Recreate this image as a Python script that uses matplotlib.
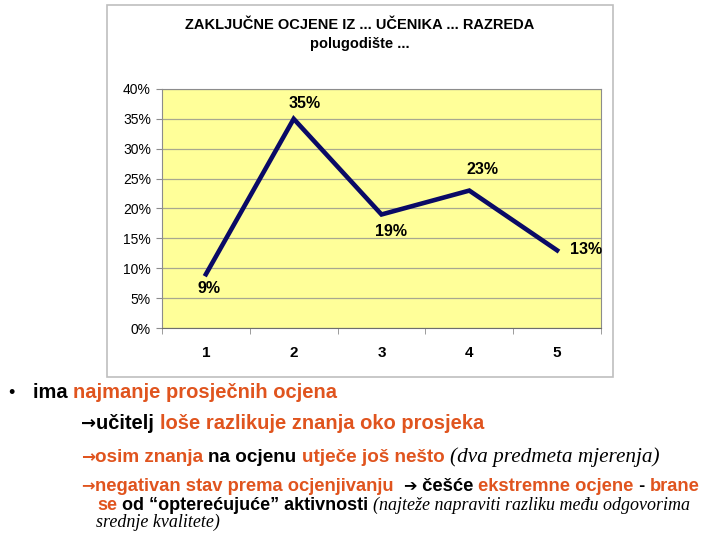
import matplotlib
matplotlib.use("Agg")
import matplotlib.pyplot as plt
from matplotlib.patches import Rectangle
from matplotlib.ticker import PercentFormatter

# podaci
kategorije = [1, 2, 3, 4, 5]
postoci = [9, 35, 19, 23, 13]
oznake = ["9%", "35%", "19%", "23%", "13%"]
y_ticks = [0, 5, 10, 15, 20, 25, 30, 35, 40]

NARANCASTA = "#E0541E"
CRNA = "#000000"

W, H = 720, 540
fig = plt.figure(figsize=(7.2, 5.4), dpi=100)
fig.patch.set_facecolor("white")

def fx(px):
    return px / W

def fy(py):
    return 1 - py / H

# okvir grafikona
fig.patches.append(Rectangle((fx(107), fy(377)), fx(613) - fx(107), fy(5) - fy(377),
                             transform=fig.transFigure, facecolor="white",
                             edgecolor="#BFBFBF", linewidth=1.2, zorder=-5))

fig.text(fx(360), fy(25), "ZAKLJUČNE OCJENE IZ ... UČENIKA ... RAZREDA",
         ha="center", va="center", fontsize=10.5, fontweight="bold",
         family="Liberation Sans")
fig.text(fx(360), fy(44), "polugodište ...", ha="center", va="center",
         fontsize=10.5, fontweight="bold", family="Liberation Sans")

ax = fig.add_axes([fx(162), fy(328), fx(601) - fx(162), fy(89) - fy(328)])
ax.set_zorder(2)
ax.set_facecolor("#FFFF99")
ax.plot(kategorije, postoci, color="#0A0A66", linewidth=3.3, solid_joinstyle="miter", zorder=3)
ax.set_xlim(0.5, 5.5)
ax.set_ylim(0, 40)
ax.set_yticks(y_ticks)
ax.yaxis.set_major_formatter(PercentFormatter(decimals=0))
ax.set_xticks(kategorije)
ax.set_xticks([0.5, 1.5, 2.5, 3.5, 4.5, 5.5], minor=True)
ax.grid(axis="y", color="#A8A890", linewidth=0.9, zorder=1)
ax.set_axisbelow(True)
for s in ["top", "right", "left"]:
    ax.spines[s].set_color("#8C8C8C")
ax.spines["bottom"].set_color("#6E6E6E")
ax.tick_params(axis="y", labelsize=10, length=4, color="#8C8C8C", pad=4)
ax.tick_params(axis="x", which="major", length=0, pad=13, labelsize=11)
ax.tick_params(axis="x", which="minor", length=4, color="#8C8C8C")
for lab in ax.get_xticklabels():
    lab.set_fontweight("bold")
    lab.set_family("Liberation Sans")
for lab in ax.get_yticklabels():
    lab.set_family("Liberation Sans")

# oznake podataka (pomak u pikselima)
pomaci = [(3, -14), (11, 15), (10, -17), (13, 21), (29, 1)]
for x, y, t, (dx, dy) in zip(kategorije, postoci, oznake, pomaci):
    ax.annotate(t, (x, y), xytext=(dx * 0.72, dy * 0.72), textcoords="offset points",
                ha="center", va="center", fontsize=11.5, fontweight="bold",
                family="Liberation Sans", zorder=4)

# tekst ispod grafikona
fig.canvas.draw()
renderer = fig.canvas.get_renderer()

def redak(x0, y0, dijelovi, vel_b=14.5, vel_i=15.5):
    x = x0
    for tekst, boja, stil in dijelovi:
        if stil == "i":
            kw = dict(family="Liberation Serif", style="italic", fontsize=vel_i)
        elif stil == "s":
            kw = dict(family="DejaVu Sans", fontweight="bold", fontsize=vel_b - 1.5)
        else:
            kw = dict(family="Liberation Sans", fontweight="bold", fontsize=vel_b)
        t = fig.text(fx(x), fy(y0), tekst, color=boja, ha="left", va="baseline", **kw)
        bb = t.get_window_extent(renderer)
        x += bb.width

fig.text(fx(8), fy(398), "•", fontsize=13, ha="left", va="baseline", family="Liberation Sans")
redak(33, 398, [("ima ", CRNA, "b"), ("najmanje prosječnih ocjena", NARANCASTA, "b")])
redak(81, 429, [("→", CRNA, "s"), ("učitelj ", CRNA, "b"),
                ("loše razlikuje znanja oko prosjeka", NARANCASTA, "b")])
redak(81, 462, [("→", NARANCASTA, "s"), ("osim znanja ", NARANCASTA, "b"),
                ("na ocjenu ", CRNA, "b"), ("utječe još nešto ", NARANCASTA, "b"),
                ("(dva predmeta mjerenja)", CRNA, "i")], vel_b=13.6, vel_i=15.3)
redak(81, 491, [("→", NARANCASTA, "s"), ("negativan stav prema ocjenjivanju  ", NARANCASTA, "b"),
                ("➔", CRNA, "s"), (" češće ", CRNA, "b"),
                ("ekstremne ocjene", NARANCASTA, "b"), (" - ", CRNA, "b"),
                ("brane", NARANCASTA, "b")], vel_b=13.2, vel_i=13)
redak(97, 510, [("se", NARANCASTA, "b"), (" od “opterećujuće” aktivnosti ", CRNA, "b"),
                ("(najteže napraviti razliku među odgovorima", CRNA, "i")], vel_b=13, vel_i=13)
redak(96, 527, [("srednje kvalitete)", CRNA, "i")], vel_i=13)

fig.savefig("out.png", dpi=100)
